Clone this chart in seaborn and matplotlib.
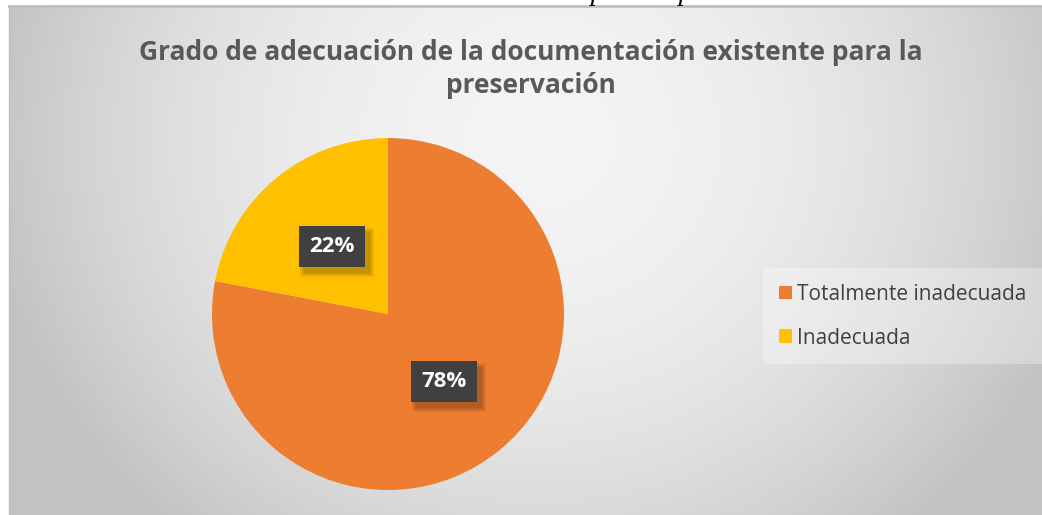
import numpy as np
import matplotlib
matplotlib.use("Agg")
import matplotlib.pyplot as plt
import matplotlib.transforms as mtransforms
from matplotlib.patches import Rectangle
import seaborn as sns

# data
categorias = ["Totalmente inadecuada", "Inadecuada"]
porcentajes = [78, 22]
colores = ["#ED7D31", "#FFC000"]
titulo = "Grado de adecuación de la documentación existente para la\npreservación"
pie_de_figura = "Grado de adecuación de la documentación existente para la preservación."

sns.set_style("white")
plt.rcParams["font.family"] = ["Open Sans", "DejaVu Sans"]

W, H = 1042, 515
fig = plt.figure(figsize=(W / 100, H / 100), dpi=100)
fig.patch.set_facecolor("white")

# caption cut off at the top of the crop
fig.text(0, 1 - 0.5 / H, pie_de_figura, ha="left", va="baseline",
         fontsize=20, style="italic", family="Liberation Serif", color="black")

# chart area with radial gray gradient
bg = fig.add_axes([9 / W, 0, 1 - 9 / W, 1 - 6 / H])
yy, xx = np.mgrid[6:H, 9:W]
r2 = ((xx - 540) / 560.0) ** 2 + ((yy - 140) / 520.0) ** 2
val = np.clip(244 - 50 * r2, 195, 255) / 255.0
bg.imshow(np.dstack([val, val, val]), extent=[0, 1, 0, 1], aspect="auto",
          origin="upper", interpolation="bilinear")
bg.set_xlim(0, 1)
bg.set_ylim(0, 1)
bg.set_xticks([])
bg.set_yticks([])
for s in bg.spines.values():
    s.set_visible(False)
bg.spines["top"].set_visible(True)
bg.spines["left"].set_visible(True)
bg.spines["top"].set_color("#bfbfbf")
bg.spines["left"].set_color("#bfbfbf")
bg.spines["top"].set_linewidth(2)
bg.spines["left"].set_linewidth(1)

fig.text(531 / W, 1 - 69 / H, titulo, ha="center", va="center",
         fontsize=19, fontweight="bold", color="#595959", linespacing=1.3)

# pie
cx, cy, rad = 388, 314, 176
ax = fig.add_axes([(cx - rad) / W, (H - cy - rad) / H, 2 * rad / W, 2 * rad / H])
wedges, _, autotexts = ax.pie(porcentajes, colors=colores, startangle=90,
                              counterclock=False, autopct=lambda p: f"{p:.0f}%",
                              pctdistance=0.5,
                              wedgeprops=dict(linewidth=0),
                              textprops=dict(color="white", fontsize=16, fontweight="bold"))
ax.set_xlim(-1, 1)
ax.set_ylim(-1, 1)
ax.set_aspect("auto")
ax.patch.set_alpha(0)

for t in autotexts:
    t.set_bbox(dict(boxstyle="square,pad=0.45", facecolor="#404040", edgecolor="none"))
    t.set_zorder(5)

leg = fig.legend(wedges, categorias, loc="upper left",
                 bbox_to_anchor=(763 / W, 1 - 268 / H), borderaxespad=0,
                 frameon=True, fancybox=False, facecolor="white", framealpha=0.3,
                 edgecolor="none", fontsize=15, labelcolor="#404040",
                 handlelength=0.62, handleheight=0.62, handletextpad=0.25,
                 labelspacing=1.1, borderpad=0.75)

# soft shadow under the data label boxes
fig.canvas.draw()
for t in autotexts:
    bb = t.get_bbox_patch().get_window_extent()
    for k in range(5):
        ax.add_patch(Rectangle((bb.x0 + 5 - k, bb.y0 - 6 - k), bb.width + 2 * k,
                               bb.height + 2 * k, transform=mtransforms.IdentityTransform(),
                               facecolor="black", alpha=0.05, edgecolor="none", zorder=4))
ax.set_xlim(-1, 1)
ax.set_ylim(-1, 1)

fig.savefig("out.png", dpi=100, facecolor="white")
